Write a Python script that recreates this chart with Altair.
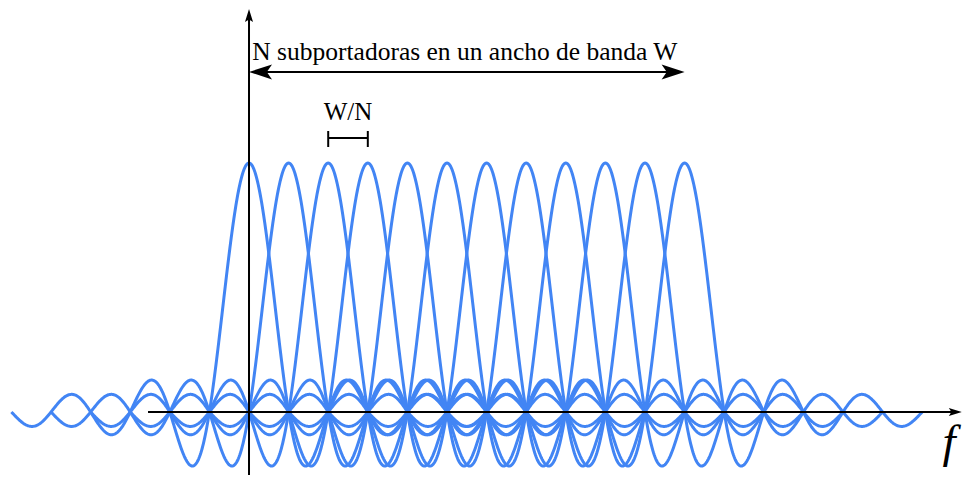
import altair as alt
import numpy as np
import pandas as pd

# ---- data -------------------------------------------------------------
centers = [0, 1, 2, 3, 4, 5, 6, 7, 8, 9, 10, 11]   # subcarrier centres (units of W/N)
half_span = 6                                        # each sinc drawn over +/- 6 spacings
x_domain = [-6.086, 18.030]
y_domain = [-0.2530, 1.6225]

title_text = ["N subportadoras en un ancho de banda W"]
spacing_text = ["W/N"]
axis_label = ["f"]

# sinc pulses
rows = []
for c in centers:
    xs = np.linspace(c - half_span, c + half_span, 721)
    ys = np.sinc(xs - c)
    for x, y in zip(xs, ys):
        rows.append({"f": float(x), "a": float(y), "k": c})
curves = pd.DataFrame(rows)

xs_ = alt.Scale(domain=x_domain, nice=False, zero=False)
ys_ = alt.Scale(domain=y_domain, nice=False, zero=False)
BLUE = "#4285F4"

def X(field, t="Q"):
    return alt.X(f"{field}:{t}", scale=xs_, axis=None)

def Y(field, t="Q"):
    return alt.Y(f"{field}:{t}", scale=ys_, axis=None)

lines = alt.Chart(curves).mark_line(color=BLUE, strokeWidth=3, clip=False).encode(
    x=X("f"), y=Y("a"), detail="k:N", order="f:Q"
)

# axes (rules)
axes_df = pd.DataFrame([
    {"x": -2.55, "x2": 17.80, "y": 0.0, "y2": 0.0},
    {"x": 0.0, "x2": 0.0, "y": y_domain[0], "y2": 1.58},
    {"x": 0.25, "x2": 10.75, "y": 1.3655, "y2": 1.3655},
    {"x": 2.0, "x2": 3.0, "y": 1.1004, "y2": 1.1004},
    {"x": 2.0, "x2": 2.0, "y": 1.0643, "y2": 1.1285},
    {"x": 3.0, "x2": 3.0, "y": 1.0643, "y2": 1.1285},
])
rules = alt.Chart(axes_df).mark_rule(color="black", strokeWidth=2).encode(
    x=X("x"), x2="x2:Q", y=Y("y"), y2="y2:Q"
)

# arrow heads
heads_df = pd.DataFrame([
    {"x": 0.0, "y": 1.618, "shape": "M0,0 L-0.62,2 L0,1.6 L0.62,2 Z", "size": 169},
    {"x": 18.00, "y": 0.0, "shape": "M0,0 L-2,-0.62 L-1.6,0 L-2,0.62 Z", "size": 169},
    {"x": 0.0, "y": 1.3655, "shape": "M0,0 L2,-0.65 L1.55,0 L2,0.65 Z", "size": 529},
    {"x": 11.0, "y": 1.3655, "shape": "M0,0 L-2,-0.65 L-1.55,0 L-2,0.65 Z", "size": 529},
])
heads = alt.Chart(heads_df).mark_point(filled=True, color="black", opacity=1, strokeWidth=0).encode(
    x=X("x"), y=Y("y"),
    shape=alt.Shape("shape:N", scale=None),
    size=alt.Size("size:Q", scale=None),
)

# texts
title_df = pd.DataFrame({"x": [5.45], "y": [1.4137], "t": title_text})
title = alt.Chart(title_df).mark_text(
    font="Liberation Serif", fontSize=25.5, align="center", baseline="alphabetic", color="black"
).encode(x=X("x"), y=Y("y"), text="t:N")

wn_df = pd.DataFrame({"x": [2.5], "y": [1.1727], "t": spacing_text})
wn = alt.Chart(wn_df).mark_text(
    font="Liberation Serif", fontSize=25, align="center", baseline="alphabetic", color="black"
).encode(x=X("x"), y=Y("y"), text="t:N")

f_df = pd.DataFrame({"x": [17.68], "y": [-0.1807], "t": axis_label})
flab = alt.Chart(f_df).mark_text(
    font="Liberation Serif", fontStyle="italic", fontSize=47, align="center",
    baseline="alphabetic", color="black"
).encode(x=X("x"), y=Y("y"), text="t:N")

chart = alt.layer(lines, rules, heads, title, wn, flab).properties(
    width=955, height=467, padding=0, autosize=alt.AutoSizeParams(type="none"),
    background="white",
).configure_view(stroke=None)

chart.save("out.html", embed_options={"renderer": "svg", "actions": False})
